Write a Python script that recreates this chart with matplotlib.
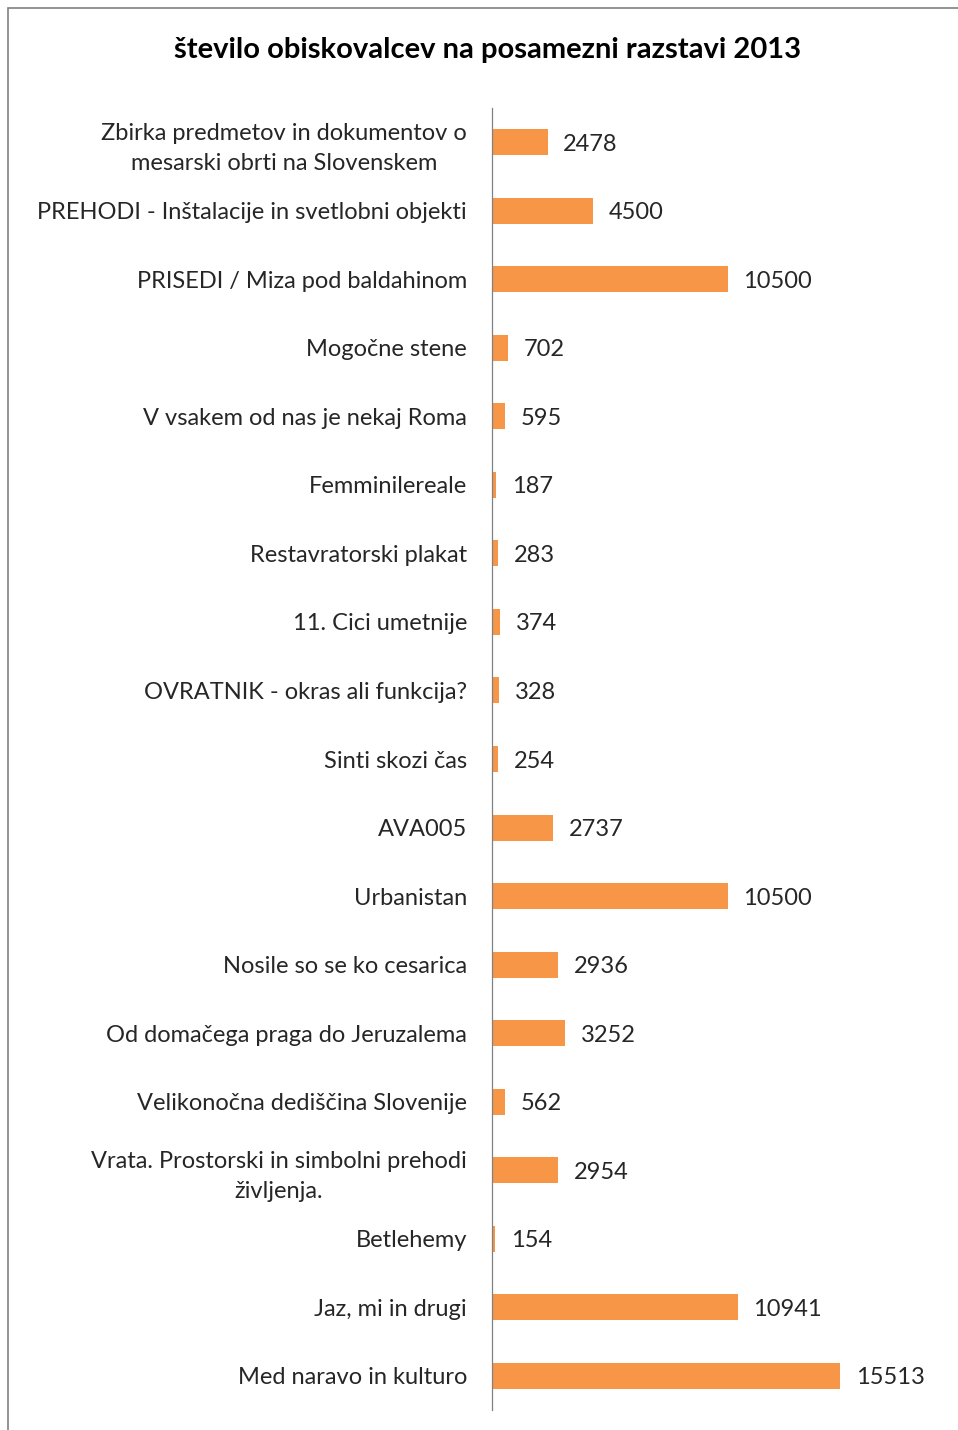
import matplotlib.pyplot as plt
from matplotlib.patches import Rectangle

plt.rcParams['font.family'] = ['Lato', 'DejaVu Sans']

# podatki
razstave = [
    "Zbirka predmetov in dokumentov o\nmesarski obrti na Slovenskem",
    "PREHODI - Inštalacije in svetlobni objekti",
    "PRISEDI / Miza pod baldahinom",
    "Mogočne stene",
    "V vsakem od nas je nekaj Roma",
    "Femminilereale",
    "Restavratorski plakat",
    "11. Cici umetnije",
    "OVRATNIK - okras ali funkcija?",
    "Sinti skozi čas",
    "AVA005",
    "Urbanistan",
    "Nosile so se ko cesarica",
    "Od domačega praga do Jeruzalema",
    "Velikonočna dediščina Slovenije",
    "Vrata. Prostorski in simbolni prehodi\nživljenja.",
    "Betlehemy",
    "Jaz, mi in drugi",
    "Med naravo in kulturo",
]
obiskovalci = [2478, 4500, 10500, 702, 595, 187, 283, 374, 328, 254,
               2737, 10500, 2936, 3252, 562, 2954, 154, 10941, 15513]

barva = '#F79646'
tekst = '#262626'

fig = plt.figure(figsize=(9.58, 14.30), dpi=100)
ax = fig.add_axes([492 / 958, 20 / 1430, 404 / 958, 1302 / 1430])

y = list(range(len(razstave)))
ax.barh(y, obiskovalci, height=0.38, color=barva)
ax.set_ylim(len(razstave) - 0.5, -0.5)
ax.set_xlim(0, 18000)

for yi, v in zip(y, obiskovalci):
    ax.text(v + 700, yi, str(v), va='center_baseline', ha='left', fontsize=17, color=tekst)

ax.set_yticks(y)
ax.set_yticklabels(razstave, fontsize=17, color=tekst, multialignment='center',
                   linespacing=1.5)
ax.tick_params(axis='y', length=0, pad=18)
ax.set_xticks([])
for s in ['top', 'right', 'bottom']:
    ax.spines[s].set_visible(False)
ax.spines['left'].set_color('#808080')
ax.spines['left'].set_linewidth(0.9)

fig.text(488 / 958, 1 - 50 / 1430, "število obiskovalcev na posamezni razstavi 2013",
         ha='center', va='center', fontsize=21, fontweight='bold', color='black')

# okvir
fig.patches.append(Rectangle((8 / 958, -0.1), 1.2, (1430 - 8) / 1430 + 0.1,
                             transform=fig.transFigure, fill=False,
                             edgecolor='#808080', linewidth=1.2))

fig.savefig('out.png', dpi=100)
